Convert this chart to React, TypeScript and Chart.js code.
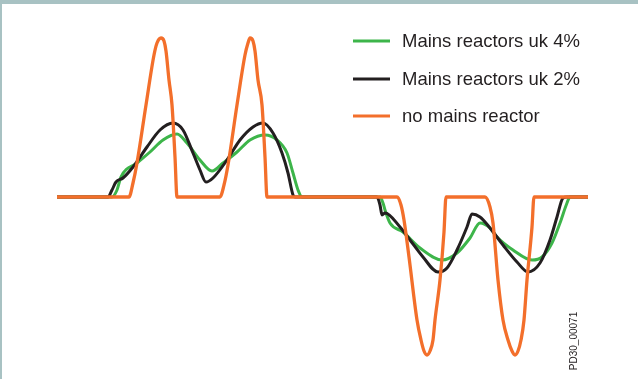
import React, { useEffect, useRef } from "react";
import { Chart, registerables } from "chart.js";

Chart.register(...registerables);

// Time axis (arbitrary units) and signal values
const uk4X = [0, 55, 60, 64, 80, 93, 106, 120, 130, 143, 155, 166, 180, 193, 208, 220, 230, 236, 241, 245, 323, 326, 328, 333, 346, 363, 385, 400, 413, 423, 433, 440, 456, 475, 485, 495, 503, 510, 513, 531];
const uk4Y = [0, 0, 7, 20, 34, 45, 57, 63, 54, 37, 26, 34, 45, 57, 62, 57, 44, 24, 7, 0, 0, -6, -13, -26, -35, -51, -63, -56, -41, -26, -31, -40, -53, -63, -60, -46, -26, -6, 0, 0];

const uk2X = [0, 51, 55, 59, 66, 76, 90, 103, 116, 126, 136, 143, 149, 156, 170, 183, 196, 206, 216, 225, 231, 236, 238, 320, 323, 325, 328, 343, 353, 366, 381, 390, 400, 410, 415, 423, 433, 446, 460, 471, 483, 493, 500, 506, 510, 531];
const uk2Y = [0, 0, 7, 15, 19, 30, 50, 67, 74, 67, 44, 27, 15, 19, 37, 57, 70, 74, 64, 44, 24, 2, 0, 0, -8, -18, -16, -30, -43, -60, -75, -71, -53, -30, -17, -20, -31, -48, -65, -75, -66, -43, -20, -1, 0, 0];

const noReactorX = [0, 72, 76, 80, 89, 97, 100, 104, 107, 109, 112, 115, 118, 120, 163, 167, 171, 180, 188, 191, 193, 196, 198, 201, 205, 208, 210, 340, 344, 347, 352, 360, 364, 367, 370, 373, 376, 378, 383, 387, 389, 428, 433, 436, 441, 446, 451, 455, 458, 461, 464, 467, 470, 475, 477, 531];
const noReactorY = [0, 0, 14, 34, 92, 142, 154, 159, 156, 146, 117, 92, 40, 0, 0, 12, 32, 92, 142, 154, 159, 156, 146, 117, 92, 40, 0, 0, -8, -23, -60, -123, -143, -154, -158, -154, -143, -123, -83, -35, 0, 0, -10, -26, -83, -123, -143, -154, -158, -154, -143, -123, -83, -30, 0, 0];

const seriesLabels = ["Mains reactors uk 4%", "Mains reactors uk 2%", "no mains reactor"];
const seriesColors = ["#3db54a", "#231f20", "#f36f2b"];
const docCode = "PD30_00071";

const toPts = (xs: number[], ys: number[]) => xs.map((x, i) => ({ x, y: ys[i] }));

const legendPlugin = {
  id: "customLegend",
  afterDraw(chart: any) {
    const ctx = chart.ctx;
    ctx.save();
    const rows = [41, 79, 116];
    chart.data.datasets.forEach((ds: any, i: number) => {
      const y = rows[i];
      ctx.strokeStyle = ds.borderColor;
      ctx.lineWidth = 3;
      ctx.beginPath();
      ctx.moveTo(353, y);
      ctx.lineTo(390, y);
      ctx.stroke();
      ctx.fillStyle = "#231f20";
      ctx.font = "18.5px 'Liberation Sans', Arial, sans-serif";
      ctx.textBaseline = "middle";
      ctx.textAlign = "left";
      ctx.fillText(ds.label, 402, y + 1);
    });
    ctx.translate(574, 341);
    ctx.rotate(-Math.PI / 2);
    ctx.font = "10px 'Liberation Sans', Arial, sans-serif";
    ctx.fillStyle = "#231f20";
    ctx.textAlign = "center";
    ctx.textBaseline = "middle";
    ctx.fillText(docCode, 0, 0);
    ctx.restore();
  },
};

export default function App() {
  const ref = useRef<HTMLCanvasElement | null>(null);
  useEffect(() => {
    if (!ref.current) return;
    const chart = new Chart(ref.current, {
      type: "line",
      data: {
        datasets: [
          { label: seriesLabels[0], data: toPts(uk4X, uk4Y), borderColor: seriesColors[0], borderWidth: 3, order: 2 },
          { label: seriesLabels[1], data: toPts(uk2X, uk2Y), borderColor: seriesColors[1], borderWidth: 3, order: 1 },
          { label: seriesLabels[2], data: toPts(noReactorX, noReactorY), borderColor: seriesColors[2], borderWidth: 3.3, order: 0 },
        ] as any,
      },
      options: {
        responsive: false,
        animation: false,
        devicePixelRatio: 1,
        layout: { padding: { left: 57, right: 50, top: 17, bottom: 2 } },
        elements: {
          point: { radius: 0 },
          line: { cubicInterpolationMode: "monotone", borderCapStyle: "butt", borderJoinStyle: "round" },
        },
        scales: {
          x: { type: "linear", min: 0, max: 531, display: false },
          y: { type: "linear", min: -180, max: 180, display: false },
        },
        plugins: { legend: { display: false }, tooltip: { enabled: false } },
      },
      plugins: [legendPlugin],
    });
    return () => chart.destroy();
  }, []);
  return (
    <div style={{ position: "fixed", left: 0, top: 0, width: 638, height: 379, background: "#ffffff", overflow: "hidden" }}>
      <div style={{ position: "absolute", left: 0, top: 0, width: 638, height: 4, background: "#a8c2c3" }} />
      <div style={{ position: "absolute", left: 0, top: 0, width: 2, height: 379, background: "#a8c2c3" }} />
      <canvas ref={ref} width={638} height={379} style={{ position: "absolute", left: 0, top: 0 }} />
    </div>
  );
}
